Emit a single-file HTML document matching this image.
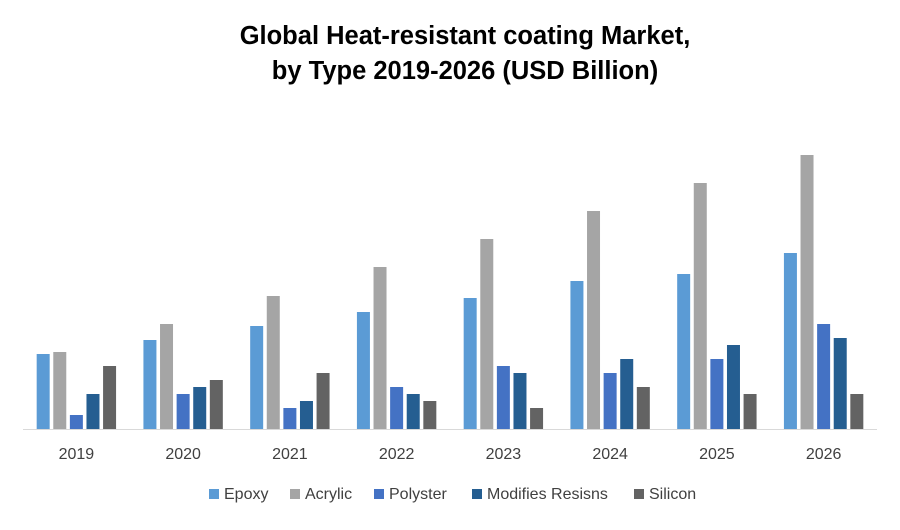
<!DOCTYPE html>
<html><head><meta charset="utf-8"><style>
body{margin:0;background:#fff;font-family:"Liberation Sans",sans-serif;}
svg text{font-family:"Liberation Sans",sans-serif;}
</style></head><body>
<svg id="chart" width="900" height="525">
<text x="465" y="44" text-anchor="middle" font-size="25.5" font-weight="bold" fill="#000">Global Heat-resistant coating Market,</text>
<text x="465" y="79" text-anchor="middle" font-size="25.5" font-weight="bold" fill="#000">by Type 2019-2026 (USD Billion)</text>
<g id="bars"></g>
<line x1="23" y1="429.5" x2="877" y2="429.5" stroke="#d9d9d9" stroke-width="1"/>
<g id="xlabels"></g>
<g id="legend"></g>
</svg>
<script>
const categories = ["2019","2020","2021","2022","2023","2024","2025","2026"];
const seriesNames = ["Epoxy","Acrylic","Polyster","Modifies Resisns","Silicon"];
const epoxy = [75,89,103,117,131,148,155,176];
const acrylic = [77,105,133,162,190,218,246,274];
const polyster = [14,35,21,42,63,56,70,105];
const modifies = [35,42,28,35,56,70,84,91];
const silicon = [63,49,56,28,21,42,35,35];
const series = [epoxy, acrylic, polyster, modifies, silicon];
const colors = ["#5B9BD5","#A5A5A5","#4472C4","#255E91","#636363"];
const NS="http://www.w3.org/2000/svg";
const x0=23, x1=877, base=429, yScale=1.0;
const band=(x1-x0)/categories.length;
const step=16.6, bw=13;
function xBand(i){return x0+band*i;}
function yPos(v){return base - v*yScale;}
const gb=document.getElementById('bars');
categories.forEach((c,i)=>{
  const start = xBand(i)+band/2 - (step*series.length - (step-bw))/2;
  series.forEach((s,j)=>{
    const r=document.createElementNS(NS,'rect');
    r.setAttribute('x',start+j*step);
    r.setAttribute('y',yPos(s[i]));
    r.setAttribute('width',bw);
    r.setAttribute('height',base-yPos(s[i]));
    r.setAttribute('fill',colors[j]);
    
    
    gb.appendChild(r);
  });
  const t=document.createElementNS(NS,'text');
  t.setAttribute('x',xBand(i)+band/2);
  t.setAttribute('y',459);
  t.setAttribute('text-anchor','middle');
  t.setAttribute('font-size','16');
  t.setAttribute('fill','#404040');
  t.textContent=c;
  
  
  document.getElementById('xlabels').appendChild(t);
});
const lg=document.getElementById('legend');
const lx=[209,290,374,472,634];
seriesNames.forEach((n,j)=>{
  const g=document.createElementNS(NS,'g');
  
  
  const r=document.createElementNS(NS,'rect');
  r.setAttribute('x',lx[j]);r.setAttribute('y',489);r.setAttribute('width',10);r.setAttribute('height',10);
  r.setAttribute('fill',colors[j]);
  const t=document.createElementNS(NS,'text');
  t.setAttribute('x',lx[j]+15);t.setAttribute('y',499);t.setAttribute('font-size','16');t.setAttribute('fill','#404040');
  t.textContent=n;
  g.appendChild(r);g.appendChild(t);lg.appendChild(g);
});
</script>
</body></html>
